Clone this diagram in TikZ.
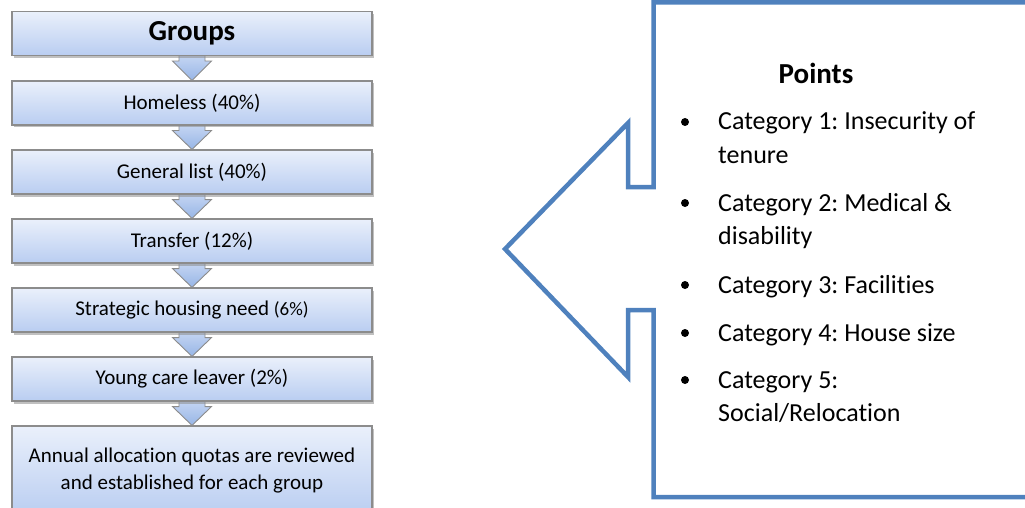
\documentclass[tikz,border=0pt]{standalone}
\usepackage{fontspec}
\setmainfont{Carlito}[Ligatures={NoCommon,NoRequired,NoContextual}]
\frenchspacing
\usetikzlibrary{calc,shadows,backgrounds}
\definecolor{boxtop}{HTML}{EAF0FB}
\definecolor{boxbot}{HTML}{B9CDF1}
\definecolor{boxline}{HTML}{8C8C8C}
\definecolor{arrtop}{HTML}{CBDAF4}
\definecolor{arrbot}{HTML}{97B5E6}
\definecolor{callblue}{HTML}{4F81BD}
\tikzset{
  stagebox/.style={draw=boxline, line width=1.1pt, top color=boxtop, bottom color=boxbot,
    minimum width=360pt, minimum height=44pt, inner sep=0pt, align=center,
    font=\fontsize{21}{27}\selectfont,
    drop shadow={shadow xshift=2pt, shadow yshift=-2.5pt, fill=black!45, opacity=0.55}},
  downarrow/.style={draw=black!45, line width=0.9pt, top color=arrtop, bottom color=arrbot, line join=miter},
  callout/.style={draw=callblue, line width=4.5pt, line join=miter, miter limit=20},
  itemtext/.style={anchor=base west, inner sep=0pt, font=\fontsize{26}{32}\selectfont},
  bulletdot/.style={circle, fill=black, inner sep=0pt, minimum size=8pt},
}
\begin{document}
\begin{tikzpicture}[x=1pt,y=-1pt]
\useasboundingbox (0,0) rectangle (1025,508);
\clip (0,0) rectangle (1025,508);

% left column
\node[stagebox, font=\fontsize{29}{33}\selectfont\bfseries] (g0) at (192,33.5) {Groups};
\node[stagebox] (g1) at (192,103) {Homeless (40\%)};
\node[stagebox] (g2) at (192,172) {General list (40\%)};
\node[stagebox] (g3) at (192,241) {Transfer (12\%)};
\node[stagebox] (g4) at (192,310) {Strategic housing need {\fontsize{19}{23}\selectfont(6\%)}};
\node[stagebox] (g5) at (192,379) {Young care leaver (2\%)};
\node[stagebox, minimum height=90pt] (g6) at (192,471) {Annual allocation quotas are reviewed\\and established for each group};

\begin{scope}[on background layer]
\foreach \a/\b in {g0/g1,g1/g2,g2/g3,g3/g4,g4/g5,g5/g6}{
  \path[downarrow] ($(\a.south)+(-13,-4)$) -- ($(\a.south)+(-13,5)$) -- ($(\a.south)+(-19.5,5)$)
     -- (\b.north) -- ($(\a.south)+(19.5,5)$) -- ($(\a.south)+(13,5)$) -- ($(\a.south)+(13,-4)$) -- cycle;
}
\end{scope}

% callout
\coordinate (tip) at (505,249);
\draw[callout] (1040,2.5) -- (653.5,2.5) -- (653.5,187) -- (628,187) -- (628,123) -- (tip)
  -- (628,377) -- (628,310) -- (653.5,310) -- (653.5,497) -- (1040,497);

\node[font=\fontsize{29}{33}\selectfont\bfseries] (pts) at (816,73) {Points};

\node[bulletdot] (b1) at (685,122) {};
\node[itemtext] (c1a) at (718,130) {Category 1: Insecurity of};
\node[itemtext] (c1b) at (718,163) {tenure};
\node[bulletdot] (b2) at (685,203) {};
\node[itemtext] (c2a) at (718,211) {Category 2: Medical \&};
\node[itemtext] (c2b) at (718,244) {disability};
\node[bulletdot] (b3) at (685,285) {};
\node[itemtext] (c3) at (718,293) {Category 3: Facilities};
\node[bulletdot] (b4) at (685,333) {};
\node[itemtext] (c4) at (718,341) {Category 4: House size};
\node[bulletdot] (b5) at (685,380) {};
\node[itemtext] (c5a) at (718,388) {Category 5:};
\node[itemtext] (c5b) at (718,421) {Social/Relocation};
\end{tikzpicture}
\end{document}
